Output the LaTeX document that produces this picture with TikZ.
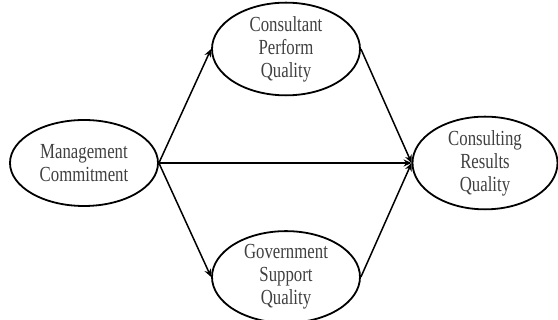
\documentclass[tikz,border=0pt]{standalone}
\usepackage{fontspec}
\setmainfont{Liberation Serif}[FakeStretch=0.78]
\usetikzlibrary{shapes.geometric,arrows.meta}
\begin{document}
\begin{tikzpicture}[x=1pt,y=-1pt,
  ell/.style={ellipse,draw,line width=1.8pt,inner sep=0pt,minimum width=148pt,minimum height=86pt,
    align=center,font=\fontsize{21.5}{23}\selectfont,text=black!75},
  arr/.style={line width=1.5pt,-{Stealth[length=8pt,width=7pt]}}]
\useasboundingbox (0,0) rectangle (558,320);
\node[ell] (mc) at (84,163) {Management\\Commitment};
\node[ell] (cp) at (286,49) {Consultant\\Perform\\Quality};
\node[ell] (gs) at (286,277) {Government\\Support\\Quality};
\node[ell,minimum width=145pt] (cr) at (485,163) {Consulting\\Results\\Quality};
\draw[arr] (mc.east) -- (cp.west);
\draw[arr] (mc.east) -- (gs.west);
\draw[arr] (mc.east) -- (cr.west);
\draw[arr] (cp.east) -- (cr.west);
\draw[arr] (gs.east) -- (cr.west);
\end{tikzpicture}
\end{document}
